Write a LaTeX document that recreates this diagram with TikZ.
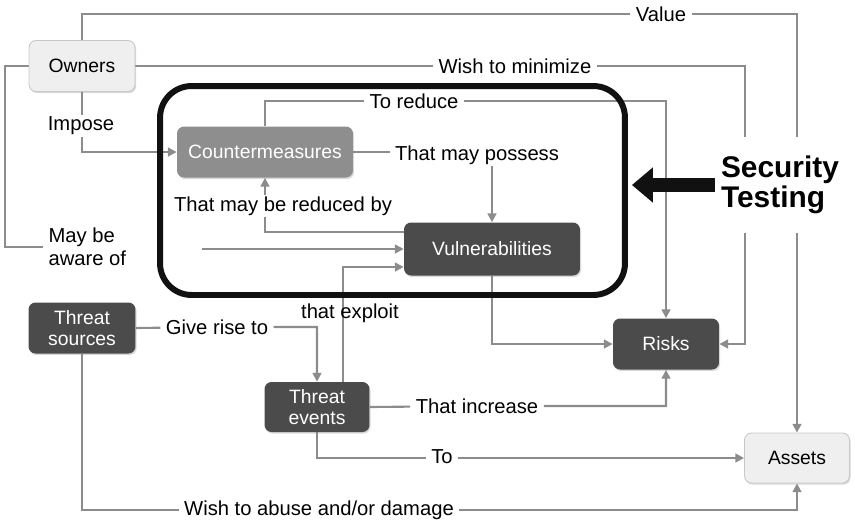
\documentclass[tikz,border=0pt]{standalone}
\usepackage{fontspec}
\setmainfont{Liberation Sans}
\setsansfont{Liberation Sans}
\usetikzlibrary{arrows.meta, positioning, backgrounds, shadows}
\definecolor{cline}{HTML}{8C8C8C}
\definecolor{cdark}{HTML}{4B4B4B}
\definecolor{cmid}{HTML}{8E8E8E}
\definecolor{clight}{HTML}{EFEFEF}
\definecolor{cedge}{HTML}{C8C8C8}
\definecolor{cframe}{HTML}{111111}
\tikzset{
  every picture/.style={font=\sffamily\fontsize{11.5}{13}\selectfont},
  box/.style={fill=#1, rounded corners=4pt, align=center, inner sep=2pt, minimum width=2.12cm, minimum height=1.02cm,
    font=\sffamily\fontsize{11}{12}\selectfont, drop shadow={shadow xshift=0.6pt, shadow yshift=-0.9pt, opacity=0.3}},
  dark/.style={box=cdark, text=white},
  mid/.style={box=cmid, text=white},
  light/.style={box=clight, draw=cedge, line width=0.5pt},
  conn/.style={draw=cline, line width=1.2pt},
  arrow/.style={conn, -{Triangle[length=5pt, width=5pt]}},
  lbl/.style={fill=white, inner xsep=3pt, inner ysep=1pt},
}

\begin{document}
\begin{tikzpicture}[x=0.02cm, y=-0.02cm]
  \useasboundingbox (0,0) rectangle (855,522);
  \node[light] (owners) at (82,66) {Owners};
  \node[mid, minimum width=3.52cm] (cm) at (265,152) {Countermeasures};
  \node[dark, minimum width=3.52cm, minimum height=1.06cm] (vuln) at (492,249) {Vulnerabilities};
  \node[dark, minimum width=2.14cm] (ts) at (82,328) {Threat\\sources};
  \node[dark, minimum width=2.1cm, minimum height=1cm] (te) at (317,407) {Threat\\events};
  \node[dark] (risks) at (666,344) {Risks};
  \node[light, minimum width=2.1cm, minimum height=1cm] (assets) at (797,458) {Assets};
  \node[draw=cframe, line width=3.4pt, rounded corners=18pt, minimum width=9.3cm, minimum height=4.18cm] (frame) at (392.5,190.5) {};
  \node[fill=white, align=left, minimum width=2.6cm, minimum height=1.92cm, font=\sffamily\bfseries\fontsize{17}{17}\selectfont] (sectest) at (780,185) {Security\\Testing};
  \node[lbl] (value) at (661,14) {Value};
  \node[lbl] (wishmin) at (515,66) {Wish to minimize};
  \node[lbl] (impose) at (81,126) {Impose};
  \node[lbl, align=left, anchor=west] (aware) at (43,247) {May be\\aware of};
  \node[lbl] (reduce) at (414,101) {To reduce};
  \node[lbl] (possess) at (477,155) {That may possess};
  \node[lbl] (reducedby) at (283,206) {That may be reduced by};
  \node (exploit) at (350,313) {that exploit};
  \node[lbl] (giverise) at (217,327) {Give rise to};
  \node[lbl] (increase) at (477,406) {That increase};
  \node[lbl] (tolbl) at (442,457) {To};
  \node[lbl] (abuse) at (319,510) {Wish to abuse and/or damage};
  \coordinate (minturn) at (745,66);
  \coordinate (awarein) at (202,249);
  \draw[cframe, line width=8pt, shorten >=0.08cm, -{Triangle[length=0.42cm, width=0.68cm]}] (sectest.west) -- (sectest.west -| frame.east);
  \begin{scope}[on background layer]
    \draw[arrow] (owners.north) |- (value) -| (assets.north);
    \draw[arrow] (owners.east) -- (minturn) |- (risks.east);
    \draw[arrow] (owners.south) |- (cm.west);
    \draw[conn] (owners.west) -- ++(-24,0) |- (aware.west);
    \draw[arrow] (awarein) -- (vuln.west);
    \draw[arrow] (cm.north) |- (reduce) -| (risks.north);
    \draw[arrow] (cm.east) -| (vuln.north);
    \draw[arrow] ([yshift=0.34cm]vuln.west) -| (cm.south);
    \draw[arrow] (vuln.south) |- (risks.west);
    \draw[arrow] (ts.east) -- (giverise) -| (te.north);
    \draw[arrow] ([xshift=0.52cm]te.north) |- ([yshift=-0.36cm]vuln.west);
    \draw[arrow] (te.east) -- (increase) -| (risks.south);
    \draw[arrow] (te.south) |- (assets.west);
    \draw[arrow] (ts.south) |- (abuse) -| (assets.south);
  \end{scope}
\end{tikzpicture}
\end{document}
